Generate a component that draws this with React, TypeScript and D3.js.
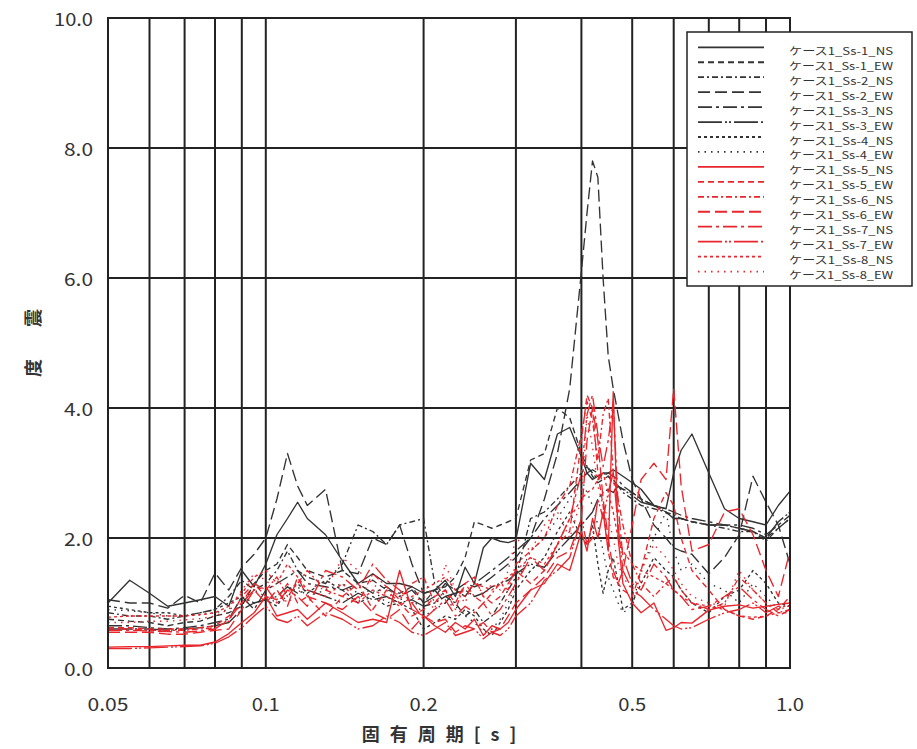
import React from 'react';
import * as d3 from 'd3';

// ---- data ----
const periods = [
  0.05, 0.055, 0.06, 0.065, 0.07, 0.075, 0.08, 0.085, 0.09, 0.095,
  0.1, 0.105, 0.11, 0.115, 0.12, 0.13, 0.14, 0.15, 0.16, 0.17,
  0.18, 0.19, 0.2, 0.21, 0.22, 0.23, 0.24, 0.25, 0.26, 0.27,
  0.28, 0.29, 0.3, 0.32, 0.34, 0.36, 0.38, 0.4, 0.41, 0.42,
  0.43, 0.44, 0.45, 0.46, 0.47, 0.48, 0.5, 0.52, 0.55, 0.58,
  0.6, 0.62, 0.65, 0.7, 0.75, 0.8, 0.85, 0.9, 0.95, 1.0,
];

const seriesNames = [
  'ケース1_Ss-1_NS', 'ケース1_Ss-1_EW', 'ケース1_Ss-2_NS', 'ケース1_Ss-2_EW',
  'ケース1_Ss-3_NS', 'ケース1_Ss-3_EW', 'ケース1_Ss-4_NS', 'ケース1_Ss-4_EW',
  'ケース1_Ss-5_NS', 'ケース1_Ss-5_EW', 'ケース1_Ss-6_NS', 'ケース1_Ss-6_EW',
  'ケース1_Ss-7_NS', 'ケース1_Ss-7_EW', 'ケース1_Ss-8_NS', 'ケース1_Ss-8_EW',
];

const ss1NS = [
  1.0, 1.35, 1.15, 0.95, 1.0, 1.05, 1.1, 0.95, 1.5, 1.25,
  1.6, 2.05, 2.3, 2.55, 2.3, 2.05, 1.65, 1.3, 1.45, 1.3,
  1.3, 1.25, 1.15, 1.2, 1.35, 1.1, 1.55, 1.3, 1.85, 2.0,
  1.95, 1.93, 1.97, 3.15, 2.9, 3.6, 3.7, 3.25, 3.0, 2.9,
  2.95, 3.0, 3.0, 3.05, 3.0, 2.95, 2.85, 2.75, 2.5, 2.45,
  3.0, 3.35, 3.6, 3.0, 2.45, 2.3, 2.25, 2.2, 2.5, 2.72,
];
const ss1EW = [
  0.75, 0.72, 0.7, 0.65, 0.7, 0.72, 0.8, 0.85, 0.95, 1.3,
  1.5, 1.6, 1.9, 1.7, 1.5, 1.4, 1.5, 1.3, 1.35, 1.2,
  1.15, 1.25, 1.0, 1.2, 1.25, 1.4, 1.7, 2.25, 2.2, 2.15,
  2.2, 2.25, 2.3, 3.2, 3.3, 4.0, 3.85, 3.3, 3.1, 2.95,
  2.85, 2.9, 2.95, 2.9, 2.8, 2.75, 2.7, 2.6, 2.5, 2.4,
  2.3, 2.3, 2.25, 2.2, 2.2, 2.15, 2.1, 2.0, 2.15, 2.3,
];
const ss2NS = [
  0.85, 0.8, 0.8, 0.75, 0.8, 0.85, 0.9, 1.1, 1.35, 1.2,
  1.3, 1.5, 1.8, 1.5, 1.4, 1.3, 1.6, 2.2, 2.1, 1.9,
  2.2, 2.25, 2.3, 1.3, 1.1, 1.0, 0.8, 0.9, 0.7, 0.8,
  1.0, 1.2, 1.4, 2.3, 2.4, 2.6, 2.8, 3.0, 3.1, 3.0,
  2.9, 3.0, 2.95, 2.85, 2.8, 2.7, 2.6, 2.5, 2.45, 2.4,
  2.35, 2.3, 2.25, 2.2, 2.15, 2.1, 2.1, 1.95, 2.15, 2.3,
];
const ss2EW = [
  1.05, 1.0, 1.0, 0.92, 1.12, 1.0, 1.46, 1.2, 1.55, 1.75,
  2.0, 2.6, 3.3, 2.8, 2.5, 2.75, 1.5, 1.45, 2.0, 1.9,
  2.2, 1.6, 1.15, 1.2, 1.0, 1.2, 1.3, 1.25, 1.3, 1.4,
  1.5, 1.6, 1.7, 2.0, 2.6, 3.3, 4.3, 6.1, 7.0, 7.8,
  7.55, 6.0, 4.8, 4.3, 3.9, 3.5, 2.9, 2.6, 2.2, 2.0,
  1.85, 1.8, 1.75, 1.45, 1.7, 2.05, 2.95, 2.55, 2.2, 1.6,
];
const ss3NS = [
  0.65, 0.65, 0.62, 0.6, 0.62, 0.65, 0.7, 0.75, 1.1, 0.9,
  1.2, 1.3, 1.4, 1.5, 1.3, 1.25, 1.2, 1.3, 1.15, 1.25,
  1.1, 1.2, 1.0, 1.1, 1.3, 1.2, 1.1, 1.3, 1.4, 1.5,
  1.6, 1.7, 1.8, 2.0, 2.3, 2.5, 2.7, 2.9, 3.0, 3.05,
  3.0, 2.95, 3.0, 2.95, 2.9, 2.8, 2.7, 2.6, 2.5, 2.45,
  2.4, 2.35, 2.3, 2.25, 2.2, 2.2, 2.15, 2.05, 2.2, 2.35,
];
const ss3EW = [
  0.6, 0.6, 0.6, 0.58, 0.6, 0.62, 0.65, 0.7, 0.9, 1.0,
  1.05, 1.1, 1.25, 1.15, 1.2, 1.1, 1.0, 1.15, 1.05, 1.1,
  1.0, 1.05, 0.95, 1.0, 1.1, 1.15, 1.2, 1.1, 1.15, 1.25,
  1.3, 1.35, 1.45, 1.6, 1.55, 1.8, 2.0, 2.2, 2.3, 2.4,
  2.6, 2.7, 2.75, 2.7, 2.8, 2.75, 2.65, 2.55, 2.5, 2.4,
  2.3, 2.3, 2.25, 2.2, 2.2, 2.15, 2.1, 2.0, 2.25, 2.4,
];
const ss4NS = [
  0.95, 0.9, 0.85, 0.85, 0.8, 0.85, 0.9, 1.0, 1.1, 1.0,
  1.05, 0.95, 1.2, 1.3, 1.15, 1.35, 1.2, 1.0, 1.1, 0.95,
  1.0, 0.9, 0.6, 0.7, 0.8, 0.75, 0.9, 0.8, 0.6, 0.5,
  0.7, 0.9, 1.2, 1.5, 1.7, 2.1, 2.4, 2.0, 1.9, 2.2,
  1.6, 1.15, 1.5, 1.7, 1.3, 0.9, 1.0, 1.3, 1.7, 1.5,
  1.4, 1.2, 1.0, 0.85, 1.1, 1.2, 1.5, 1.3, 1.0, 0.95,
];
const ss4EW = [
  0.9, 0.88, 0.85, 0.8, 0.8, 0.82, 0.85, 0.9, 1.0, 1.2,
  1.1, 1.0, 1.1, 1.25, 1.1, 1.2, 1.3, 1.15, 1.2, 1.0,
  1.05, 1.1, 0.8, 0.9, 1.0, 0.95, 0.8, 0.7, 0.55, 0.6,
  0.75, 1.0, 1.3, 1.8, 2.0, 2.3, 2.6, 2.9, 2.7, 2.5,
  2.2, 1.8, 1.4, 1.2, 1.0, 0.85, 0.95, 1.5, 2.0, 2.4,
  1.8, 1.5, 1.6, 1.3, 1.2, 1.0, 1.3, 1.1, 0.9, 1.0,
];
const ss5NS = [
  0.32, 0.33, 0.33, 0.34, 0.35, 0.35, 0.4, 0.53, 0.7, 0.85,
  1.1, 0.8, 0.85, 0.9, 0.75, 1.0, 0.85, 0.7, 0.75, 0.7,
  1.5, 0.9, 0.8, 0.65, 0.55, 0.7, 0.6, 0.75, 0.5, 0.65,
  0.6, 0.7, 0.9, 1.2, 1.3, 1.6, 1.5, 2.1, 1.8, 2.3,
  2.0, 2.4, 1.8, 4.25, 2.0, 1.3, 1.0, 0.85, 1.0, 0.58,
  0.62, 0.7, 0.69, 0.89, 0.95, 0.97, 0.92, 0.95, 0.98, 1.0,
];
const ss5EW = [
  0.62, 0.62, 0.6, 0.6, 0.6, 0.62, 0.65, 0.8, 1.0, 1.3,
  1.1, 1.05, 1.3, 1.0, 1.1, 0.8, 1.1, 1.3, 0.9, 1.2,
  1.0, 0.8, 0.9, 1.1, 1.2, 1.0, 1.3, 1.4, 1.1, 1.0,
  1.1, 1.3, 1.5, 1.3, 1.5, 1.9, 2.1, 3.5, 4.2, 4.0,
  3.0, 2.5, 1.8, 1.4, 1.3, 1.2, 1.1, 1.5, 2.3, 2.7,
  2.5, 2.0, 1.5, 1.2, 0.9, 0.8, 0.75, 0.8, 0.9, 1.1,
];
const ss6NS = [
  0.6, 0.6, 0.58, 0.58, 0.58, 0.6, 0.62, 0.72, 1.1, 1.3,
  1.2, 1.4, 1.1, 1.3, 1.5, 1.2, 1.1, 1.0, 1.45, 1.25,
  1.05, 1.3, 1.4, 1.0, 1.2, 0.9, 1.3, 1.1, 1.0, 1.15,
  1.3, 1.2, 1.6, 1.8, 2.0, 2.5, 2.8, 3.6, 4.1, 3.8,
  3.2, 3.9, 4.15, 3.0, 2.6, 2.2, 1.6, 1.3, 1.1, 1.3,
  1.4, 1.2, 1.0, 0.9, 1.0, 1.4, 1.2, 1.0, 0.85, 0.9,
];
const ss6EW = [
  0.55, 0.55, 0.55, 0.52, 0.52, 0.55, 0.58, 0.6, 0.9, 1.2,
  1.0, 1.2, 0.95, 1.4, 1.1, 1.0, 0.9, 1.1, 0.85, 0.75,
  0.9, 0.6, 0.8, 0.7, 0.75, 0.55, 0.65, 0.6, 0.7, 0.55,
  0.6, 0.8, 1.0, 1.2, 1.4, 1.7, 1.8, 2.3, 3.5, 4.0,
  3.5, 2.6, 2.0, 1.5, 1.3, 1.5, 2.2, 2.9, 3.15, 2.9,
  4.3, 2.8, 1.8, 1.9, 2.4, 2.45, 2.05, 1.5, 1.1, 1.8,
];
const ss7NS = [
  0.58, 0.58, 0.57, 0.56, 0.55, 0.57, 0.6, 0.75, 1.0, 1.2,
  1.25, 1.0, 1.2, 1.1, 0.95, 1.5, 1.4, 1.2, 1.6, 1.35,
  1.2, 1.0, 0.75, 0.9, 1.05, 0.8, 0.95, 0.85, 1.0, 0.8,
  0.9, 1.1, 1.3, 1.7, 1.5, 1.9, 2.3, 3.0, 3.9, 4.2,
  3.6, 3.1, 3.5, 4.1, 2.5, 1.7, 1.3, 1.2, 1.6, 1.4,
  1.2, 1.1, 0.9, 0.95, 1.1, 1.25, 1.05, 0.9, 0.8, 0.9,
];
const ss7EW = [
  0.3, 0.3, 0.31, 0.32, 0.33, 0.34, 0.38, 0.48, 0.62, 0.8,
  0.95, 0.75, 0.7, 0.8, 0.65, 0.85, 0.75, 0.6, 0.65, 0.8,
  0.7, 0.55, 0.5, 0.6, 0.7, 0.5, 0.55, 0.6, 0.45, 0.55,
  0.5, 0.6, 0.8, 1.0, 1.35, 1.5, 1.7, 2.3, 1.9, 2.0,
  2.6, 2.3, 2.7, 3.0, 2.2, 1.5, 1.2, 1.1, 0.9, 0.75,
  0.65, 0.6, 0.62, 0.75, 0.85, 0.9, 1.0, 0.85, 0.95, 0.95,
];
const ss8NS = [
  0.78, 0.8, 0.8, 0.8, 0.8, 0.82, 0.85, 0.95, 1.15, 1.4,
  1.5, 1.3, 1.6, 1.4, 1.2, 1.1, 1.3, 1.0, 1.2, 1.1,
  0.95, 1.1, 1.2, 1.3, 1.4, 1.2, 1.1, 1.3, 1.25, 1.2,
  1.3, 1.4, 1.5, 1.7, 1.6, 1.9, 2.3, 2.6, 2.7, 2.75,
  2.9, 3.0, 2.7, 2.4, 2.0, 1.8, 1.6, 1.5, 1.4, 1.3,
  1.2, 1.1, 1.0, 0.95, 0.9, 0.8, 0.78, 0.8, 0.85, 0.85,
];
const ss8EW = [
  0.7, 0.7, 0.72, 0.72, 0.74, 0.76, 0.8, 0.9, 1.2, 1.45,
  1.35, 1.2, 1.0, 1.15, 1.3, 1.2, 1.7, 1.5, 1.3, 1.1,
  1.15, 1.0, 1.1, 0.9, 1.6, 1.2, 1.0, 1.4, 1.1, 1.3,
  1.2, 1.5, 2.0, 1.8, 2.2, 2.4, 2.0, 2.6, 3.9, 3.4,
  2.8, 2.5, 2.3, 2.0, 1.6, 1.4, 1.2, 1.5, 1.9, 1.7,
  1.5, 1.3, 1.1, 1.0, 0.95, 1.5, 1.2, 1.0, 0.9, 0.95,
];

const seriesValues = [
  ss1NS, ss1EW, ss2NS, ss2EW, ss3NS, ss3EW, ss4NS, ss4EW,
  ss5NS, ss5EW, ss6NS, ss6EW, ss7NS, ss7EW, ss8NS, ss8EW,
];

const gridPeriods = [0.06, 0.07, 0.08, 0.09, 0.1, 0.2, 0.3, 0.4, 0.5, 0.6, 0.7, 0.8, 0.9];
const xTickValues = [0.05, 0.1, 0.2, 0.5, 1.0];
const xTickLabels = ['0.05', '0.1', '0.2', '0.5', '1.0'];
const yTickValues = [0, 2, 4, 6, 8, 10];
const yTickLabels = ['0.0', '2.0', '4.0', '6.0', '8.0', '10.0'];

// ---- styles ----
const BLACK = '#333333';
const RED = '#e8262c';
const dashPatterns = [
  'none', '6,4', '6,3,2,3', '12,5', '14,4,3,4', '24,3,2,2,2,3', '3,3', '1.5,5',
];

const FONT = "'Noto Sans CJK JP', 'Noto Sans', sans-serif";

export default function App() {
  const left = 108, right = 790, top = 18, bottom = 668;
  const x = d3.scaleLog().domain([0.05, 1.0]).range([left, right]);
  const y = d3.scaleLinear().domain([0, 10]).range([bottom, top]);
  const line = d3.line<number>()
    .x((_, i) => x(periods[i]))
    .y((d) => y(d));

  const legX = 687, legY = 32, legW = 225, legH = 254;
  const rowStep = 14.95;

  return (
    <svg width={917} height={749} style={{ position: 'absolute', left: 0, top: 0, background: '#fff' }}
      fontFamily={FONT}>
      <rect x={0} y={0} width={917} height={749} fill="#fff" />
      <defs>
        <clipPath id="plotClip">
          <rect x={left} y={top} width={right - left} height={bottom - top} />
        </clipPath>
      </defs>

      {/* grid */}
      {gridPeriods.map((p) => (
        <line key={'gx' + p} x1={x(p)} x2={x(p)} y1={top} y2={bottom} stroke="#222" strokeWidth={2} />
      ))}
      {yTickValues.map((v) => (
        <line key={'gy' + v} x1={left} x2={right} y1={y(v)} y2={y(v)} stroke="#222" strokeWidth={2} />
      ))}

      {/* series */}
      <g clipPath="url(#plotClip)">
        {seriesValues.map((vals, i) => (
          <path key={'s' + i} d={line(vals) || ''} fill="none"
            stroke={i < 8 ? BLACK : RED}
            strokeWidth={1.35}
            strokeDasharray={dashPatterns[i % 8]}
            strokeLinejoin="round" />
        ))}
      </g>

      {/* frame */}
      <rect x={left} y={top} width={right - left} height={bottom - top} fill="none" stroke="#222" strokeWidth={2} />

      {/* y ticks */}
      {yTickValues.map((v, i) => (
        <text key={'yt' + v} x={93} y={y(v)} textAnchor="end" dominantBaseline="central"
          fontSize={18} fill="#333" textLength={yTickLabels[i].length === 4 ? 39 : 29}
          lengthAdjust="spacingAndGlyphs">{yTickLabels[i]}</text>
      ))}
      {/* x ticks */}
      {xTickValues.map((v, i) => (
        <text key={'xt' + v} x={x(v)} y={703} textAnchor="middle" dominantBaseline="central"
          fontSize={18} fill="#333" textLength={xTickLabels[i].length === 4 ? 41 : 28}
          lengthAdjust="spacingAndGlyphs">{xTickLabels[i]}</text>
      ))}

      {/* axis titles */}
      <text x={444} y={733} textAnchor="middle" dominantBaseline="central" fontSize={18}
        fontWeight="bold" fill="#333" letterSpacing={10}>固有周期[s]</text>
      <text transform="translate(32,318) rotate(-90)" textAnchor="middle" dominantBaseline="central"
        fontSize={18} fontWeight="bold" fill="#333">震</text>
      <text transform="translate(32,368) rotate(-90)" textAnchor="middle" dominantBaseline="central"
        fontSize={18} fontWeight="bold" fill="#333">度</text>

      {/* legend */}
      <rect x={legX} y={legY} width={legW} height={legH} fill="#fff" stroke="#222" strokeWidth={1.5} />
      {seriesNames.map((name, i) => {
        const ly = legY + 15.3 + i * rowStep;
        return (
          <g key={'lg' + i}>
            <line x1={698} x2={764} y1={ly} y2={ly} stroke={i < 8 ? BLACK : RED}
              strokeWidth={1.8} strokeDasharray={dashPatterns[i % 8]} />
            <text x={789} y={ly + 3} dominantBaseline="central" fontSize={10.2} fill="#333"
              textLength={104} lengthAdjust="spacingAndGlyphs">{name}</text>
          </g>
        );
      })}
    </svg>
  );
}
